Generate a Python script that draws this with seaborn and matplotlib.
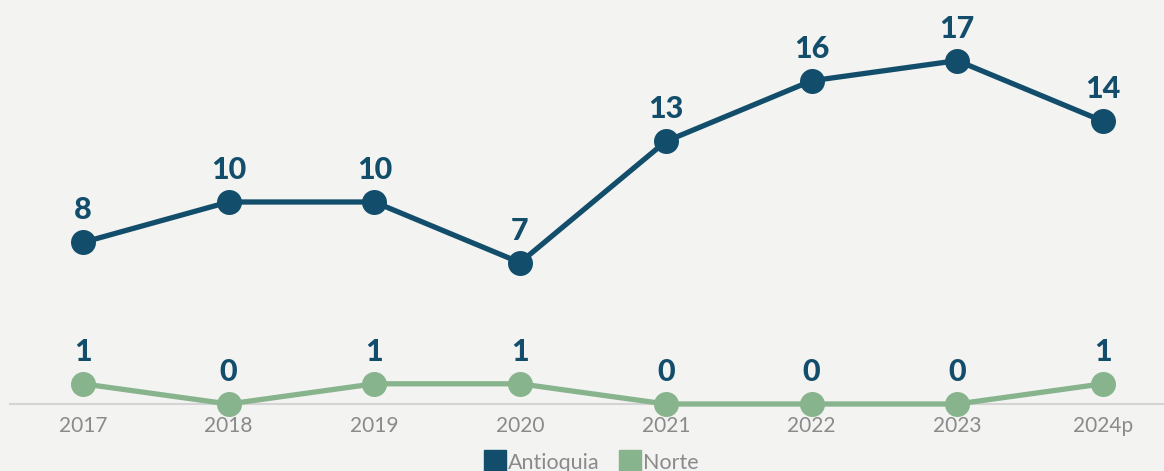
import numpy as np
import pandas as pd
import matplotlib
matplotlib.use("Agg")
import matplotlib.pyplot as plt
import seaborn as sns
from matplotlib.lines import Line2D

# data
years = ["2017", "2018", "2019", "2020", "2021", "2022", "2023", "2024p"]
antioquia = [8, 10, 10, 7, 13, 16, 17, 14]
norte = [1, 0, 1, 1, 0, 0, 0, 1]

blue = "#124e6b"
green = "#87b48d"
bg = "#f3f3f1"

df = pd.DataFrame({
    "pos": list(range(len(years))) * 2,
    "valor": antioquia + norte,
    "serie": ["Antioquia"] * len(years) + ["Norte"] * len(years),
})

sns.set_style("white")
plt.rcParams["font.family"] = ["Lato", "DejaVu Sans"]

fig = plt.figure(figsize=(11.64, 4.71), dpi=100, facecolor=bg)
ax = fig.add_axes([10 / 1164, 67 / 471, 1 - 10 / 1164, 404 / 471])
ax.set_facecolor(bg)

sns.lineplot(data=df, x="pos", y="valor", hue="serie",
             palette={"Antioquia": blue, "Norte": green},
             marker="o", markersize=18, markeredgewidth=0,
             linewidth=3.8, legend=False, ax=ax, clip_on=False)

# value labels
for serie, vals in [("Antioquia", antioquia), ("Norte", norte)]:
    for i, v in enumerate(vals):
        ax.annotate(str(v), (i, v), xytext=(0, 23), textcoords="offset points",
                    ha="center", va="center", fontsize=22, fontweight="black",
                    color=blue)

ax.set_xlim(-0.5, 7 + 61 / 145.7)
ax.set_ylim(0, 20)
ax.set_xticks(range(len(years)))
ax.set_xticklabels(years, fontsize=15, color="#8a8a8a")
ax.set_yticks([])
ax.set_xlabel("")
ax.set_ylabel("")
ax.tick_params(axis="x", length=0, pad=9)
for s in ["top", "right", "left"]:
    ax.spines[s].set_visible(False)
ax.spines["bottom"].set_color("#d4d4d4")
ax.spines["bottom"].set_linewidth(1.5)
ax.spines["bottom"].set_zorder(0)

handles = [Line2D([], [], marker="s", linestyle="", markersize=16, color=blue),
           Line2D([], [], marker="s", linestyle="", markersize=16, color=green)]
fig.legend(handles, ["Antioquia", "Norte"], loc="center",
           bbox_to_anchor=(0.508, 0.018), ncol=2, frameon=False,
           fontsize=15.5, labelcolor="#8a8a8a", handletextpad=0.1,
           columnspacing=0.9, handlelength=1.0)

fig.savefig("out.png", dpi=100, facecolor=bg)
